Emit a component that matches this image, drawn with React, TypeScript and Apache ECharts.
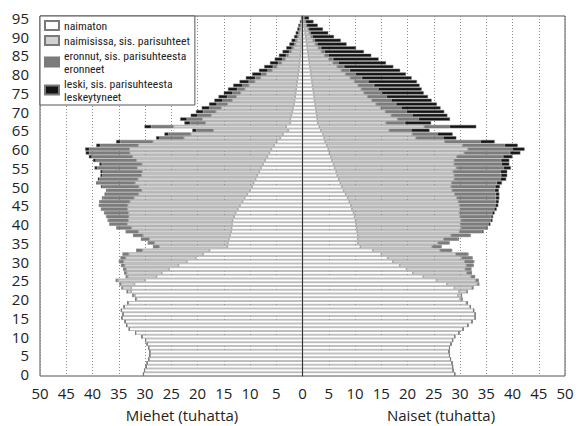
import React, { useEffect, useRef } from "react";
import * as echarts from "echarts";

const ages: string[] = Array.from({ length: 96 }, (_, i) => String(i));

const seriesNames = [
  "naimaton",
  "naimisissa, sis. parisuhteet",
  "eronnut, sis. parisuhteesta eronneet",
  "leski, sis. parisuhteesta leskeytyneet",
];

// Men (thousands), ages 0..95
const menNaimaton = [
  30.3, 30.1, 29.8, 29.6, 29.3, 29.1, 29.1, 29.3, 29.6, 29.9,
  30.6, 31.8, 33.0, 33.5, 33.8, 34.4, 34.2, 34.5, 33.95, 33.2,
  31.6, 31.9, 32.6, 32.6, 32.0, 30.0, 27.8, 26.8, 25.4, 23.6,
  22.0, 20.3, 18.9, 17.7, 14.3, 14.2, 14.0, 13.8, 13.6, 13.5,
  13.4, 13.3, 13.0, 12.7, 12.3, 11.9, 11.4, 11.0, 10.5, 10.0,
  9.6, 9.3, 8.9, 8.6, 8.2, 7.9, 7.5, 7.1, 6.7, 6.3,
  5.9, 5.4, 4.9, 4.2, 3.7, 2.7, 3.1, 2.3, 2.3, 2.1,
  1.9, 1.8, 1.6, 1.5, 1.4, 1.3, 1.2, 1.1, 1.0, 0.9,
  0.8, 0.7, 0.6, 0.55, 0.5, 0.4, 0.35, 0.3, 0.25, 0.2,
  0.15, 0.12, 0.1, 0.08, 0.05, 0.03,
];
const menNaimisissa = [
  0, 0, 0, 0, 0, 0, 0, 0, 0, 0,
  0, 0, 0, 0, 0, 0, 0, 0, 0.05, 0.1,
  0.2, 0.4, 0.8, 1.7, 2.6, 5.2, 5.5, 6.7, 8.2, 10.3,
  12.1, 13.4, 14.2, 12.8, 13.0, 14.0, 15.2, 16.6, 17.7, 19.1,
  20.0, 19.9, 20.1, 20.45, 21.05, 21.4, 21.5, 21.1, 20.75, 20.65,
  21.6, 22.6, 22.45, 22.1, 22.35, 23.6, 23.1, 24.55, 25.7, 26.6,
  27.1, 25.9, 23.6, 18.4, 17.6, 14.3, 21.5, 16.2, 16.8, 15.3,
  14.6, 13.7, 12.7, 11.9, 11.2, 10.5, 9.8, 9.1, 8.1, 7.1,
  6.1, 5.1, 4.3, 3.45, 2.8, 2.3, 1.8, 1.4, 1.05, 0.9,
  0.65, 0.53, 0.35, 0.32, 0.15, 0.1,
];
const menEronnut = [
  0, 0, 0, 0, 0, 0, 0, 0, 0, 0,
  0, 0, 0, 0, 0, 0, 0, 0, 0, 0,
  0, 0, 0, 0.1, 0.2, 0.3, 0.3, 0.4, 0.5, 0.6,
  0.8, 0.9, 1.1, 1.1, 1.1, 1.2, 1.5, 1.8, 2.3, 2.8,
  3.3, 3.8, 4.2, 4.5, 4.9, 5.3, 5.6, 5.9, 6.2, 6.5,
  6.9, 7.1, 7.3, 7.4, 7.5, 7.6, 7.6, 7.7, 7.7, 7.7,
  7.6, 7.2, 6.2, 4.6, 4.2, 3.2, 4.2, 2.9, 2.9, 2.6,
  2.4, 2.2, 2.0, 1.8, 1.7, 1.5, 1.4, 1.2, 1.1, 1.0,
  0.9, 0.8, 0.7, 0.6, 0.5, 0.4, 0.35, 0.3, 0.25, 0.2,
  0.15, 0.1, 0.1, 0.05, 0.05, 0.02,
];
const menLeski = [
  0, 0, 0, 0, 0, 0, 0, 0, 0, 0,
  0, 0, 0, 0, 0, 0, 0, 0, 0, 0,
  0, 0, 0, 0, 0, 0, 0, 0, 0, 0,
  0, 0, 0, 0, 0, 0, 0, 0, 0, 0,
  0.1, 0.1, 0.1, 0.15, 0.15, 0.2, 0.2, 0.2, 0.25, 0.25,
  0.3, 0.3, 0.35, 0.4, 0.45, 0.5, 0.5, 0.55, 0.6, 0.7,
  0.8, 0.8, 0.8, 0.7, 0.8, 0.8, 1.3, 1.1, 1.3, 1.3,
  1.4, 1.5, 1.5, 1.6, 1.7, 1.7, 1.8, 1.8, 1.8, 1.8,
  1.8, 1.7, 1.7, 1.6, 1.5, 1.4, 1.3, 1.1, 0.95, 0.8,
  0.65, 0.55, 0.45, 0.35, 0.25, 0.15,
];

// Women (thousands), ages 0..95
const womenNaimaton = [
  29.0, 28.7, 28.6, 28.5, 28.2, 28.0, 27.9, 28.0, 28.3, 28.6,
  29.0, 29.8, 30.6, 31.5, 32.3, 32.9, 32.9, 32.6, 31.9, 31.2,
  30.0, 29.6, 29.8, 28.9, 27.5, 25.5, 23.0, 21.0, 19.8, 18.5,
  17.2, 16.2, 15.0, 13.4, 11.0, 10.5, 10.5, 10.5, 10.4, 10.3,
  10.2, 10.1, 9.9, 9.7, 9.4, 9.2, 8.9, 8.6, 8.2, 7.8,
  7.5, 7.2, 6.9, 6.6, 6.4, 6.1, 5.9, 5.6, 5.4, 5.1,
  4.9, 4.6, 4.3, 4.1, 3.9, 3.5, 3.2, 2.9, 2.8, 2.7,
  2.6, 2.5, 2.4, 2.3, 2.2, 2.1, 2.0, 1.9, 1.8, 1.7,
  1.6, 1.5, 1.4, 1.3, 1.2, 1.1, 1.0, 0.9, 0.8, 0.7,
  0.6, 0.5, 0.4, 0.3, 0.2, 0.1,
];
const womenNaimisissa = [
  0, 0, 0, 0, 0, 0, 0, 0, 0, 0,
  0, 0, 0, 0, 0, 0, 0, 0, 0.1, 0.2,
  0.4, 0.7, 1.5, 3.4, 5.8, 7.5, 9.1, 10.3, 11.2, 12.7,
  13.7, 14.1, 14.2, 12.8, 13.7, 15.3, 16.4, 17.8, 19.5, 19.9,
  19.9, 20.1, 20.1, 20.2, 20.6, 20.7, 20.8, 20.8, 20.8, 20.7,
  20.8, 21.2, 22.0, 22.3, 22.3, 23.2, 23.0, 23.3, 24.0, 25.7,
  26.6, 25.9, 22.8, 17.5, 17.0, 13.0, 20.0, 13.0, 15.3, 14.2,
  13.2, 12.4, 11.6, 10.9, 10.2, 9.6, 9.2, 8.7, 8.1, 7.4,
  6.6, 5.9, 5.2, 4.5, 3.8, 3.1, 2.6, 2.1, 1.6, 1.3,
  1.0, 0.8, 0.6, 0.4, 0.3, 0.2,
];
const womenEronnut = [
  0, 0, 0, 0, 0, 0, 0, 0, 0, 0,
  0, 0, 0, 0, 0, 0, 0, 0, 0, 0,
  0, 0, 0.1, 0.2, 0.3, 0.5, 0.7, 0.9, 1.1, 1.3,
  1.7, 2.0, 2.3, 2.2, 1.7, 2.0, 2.7, 3.5, 4.3, 4.8,
  5.3, 5.6, 5.9, 6.2, 6.5, 6.8, 7.1, 7.4, 7.8, 8.1,
  8.4, 8.6, 8.8, 8.9, 9.0, 9.0, 9.0, 8.9, 8.8, 8.7,
  8.5, 8.0, 6.8, 5.2, 4.8, 4.2, 4.8, 3.6, 4.0, 4.0,
  4.0, 3.9, 3.8, 3.7, 3.6, 3.4, 3.2, 3.0, 2.6, 2.2,
  1.9, 1.6, 1.3, 1.0, 0.8, 0.7, 0.6, 0.5, 0.4, 0.3,
  0.3, 0.2, 0.2, 0.1, 0.1, 0.05,
];
const womenLeski = [
  0, 0, 0, 0, 0, 0, 0, 0, 0, 0,
  0, 0, 0, 0, 0, 0, 0, 0, 0, 0,
  0, 0, 0, 0, 0, 0, 0, 0, 0, 0.1,
  0.1, 0.1, 0.1, 0.1, 0.1, 0.2, 0.2, 0.2, 0.3, 0.3,
  0.4, 0.4, 0.4, 0.5, 0.5, 0.6, 0.6, 0.7, 0.7, 0.8,
  0.9, 1.0, 1.1, 1.2, 1.3, 1.4, 1.5, 1.6, 1.8, 2.0,
  2.3, 2.5, 2.7, 2.5, 2.9, 3.5, 5.1, 5.0, 6.0, 6.7,
  7.2, 7.5, 7.8, 7.7, 7.9, 8.0, 8.3, 8.7, 9.3, 9.5,
  9.6, 9.6, 9.4, 9.1, 8.7, 8.2, 7.5, 6.7, 5.6, 5.0,
  4.1, 3.4, 2.7, 2.1, 1.5, 0.9,
];

const xTitles = ["Miehet (tuhatta)", "Naiset (tuhatta)"];

const fills = ["#ffffff", "#d2d2d2", "#7c7c7c", "#141414"];
const legendLabels: Record<string, string> = {
  "naimaton": "naimaton",
  "naimisissa, sis. parisuhteet": "naimisissa, sis. parisuhteet",
  "eronnut, sis. parisuhteesta eronneet": "eronnut, sis. parisuhteesta\neronneet",
  "leski, sis. parisuhteesta leskeytyneet": "leski, sis. parisuhteesta\nleskeytyneet",
};

const FONT = '"Open Sans", "Noto Sans", sans-serif';
const NARROW = '"Liberation Sans Narrow", "Arial Narrow", "Roboto Condensed", Roboto, sans-serif';

export default function App() {
  const ref = useRef<HTMLDivElement>(null);
  useEffect(() => {
    if (!ref.current) return;
    const chart = echarts.init(ref.current, null, { renderer: "svg" });
    const menSets = [menNaimaton, menNaimisissa, menEronnut, menLeski];
    const womenSets = [womenNaimaton, womenNaimisissa, womenEronnut, womenLeski];
    const mk = (name: string, data: number[], color: string) => ({
      name,
      type: "bar",
      stack: "pyramid",
      data,
      barCategoryGap: "10%",
      itemStyle: { color, borderColor: "#7a7a7a", borderWidth: 0.5 },
      emphasis: { disabled: true },
    });
    const series: any[] = [];
    seriesNames.forEach((n, i) => series.push(mk(n, menSets[i].map((v) => -v), fills[i])));
    seriesNames.forEach((n, i) => series.push(mk(n, womenSets[i], fills[i])));

    chart.setOption({
      animation: false,
      grid: {
        left: 40,
        right: 18,
        top: 16,
        bottom: 50,
        show: true,
        borderColor: "#555",
        borderWidth: 1,
      },
      legend: {
        data: seriesNames,
        orient: "vertical",
        left: 40,
        top: 16,
        backgroundColor: "#ffffff",
        borderColor: "#555",
        borderWidth: 1,
        padding: [3, 5, 2, 4],
        itemGap: 2,
        itemWidth: 14,
        itemHeight: 9,
        icon: "rect",
        formatter: (n: string) => legendLabels[n] ?? n,
        textStyle: { fontSize: 11.7, color: "#222", fontFamily: NARROW, lineHeight: 13 },
        selectedMode: false,
      },
      xAxis: {
        type: "value",
        min: -50,
        max: 50,
        interval: 5,
        axisLine: { show: false },
        axisTick: { show: false },
        axisLabel: {
          formatter: (v: number) => String(Math.abs(v)),
          fontSize: 15,
          color: "#222",
          fontFamily: FONT,
          margin: 9,
        },
        splitLine: { show: true, lineStyle: { type: [1, 2], color: "#8a8a8a", width: 1 } },
      },
      yAxis: [
        {
          type: "category",
          data: ages,
          axisLine: { show: false, onZero: false },
          axisTick: { show: false },
          axisLabel: { interval: 4, fontSize: 15, color: "#222", fontFamily: FONT, margin: 11 },
          splitLine: { show: false },
        },
        {
          type: "category",
          data: ages,
          z: 6,
          axisLine: { show: true, onZero: true, lineStyle: { color: "#333", width: 1 } },
          axisTick: { show: false },
          axisLabel: { show: false },
          splitLine: { show: false },
        },
      ],
      graphic: [
        {
          type: "text",
          x: 182,
          y: 415,
          style: { text: xTitles[0], align: "center", verticalAlign: "middle", fontSize: 15, fill: "#222", fontFamily: FONT },
        },
        {
          type: "text",
          x: 441,
          y: 415,
          style: { text: xTitles[1], align: "center", verticalAlign: "middle", fontSize: 15, fill: "#222", fontFamily: FONT },
        },
      ],
      series,
    });
    return () => chart.dispose();
  }, []);
  return (
    <div
      ref={ref}
      style={{ position: "absolute", left: 0, top: 0, width: 583, height: 426, background: "#fff" }}
    />
  );
}
